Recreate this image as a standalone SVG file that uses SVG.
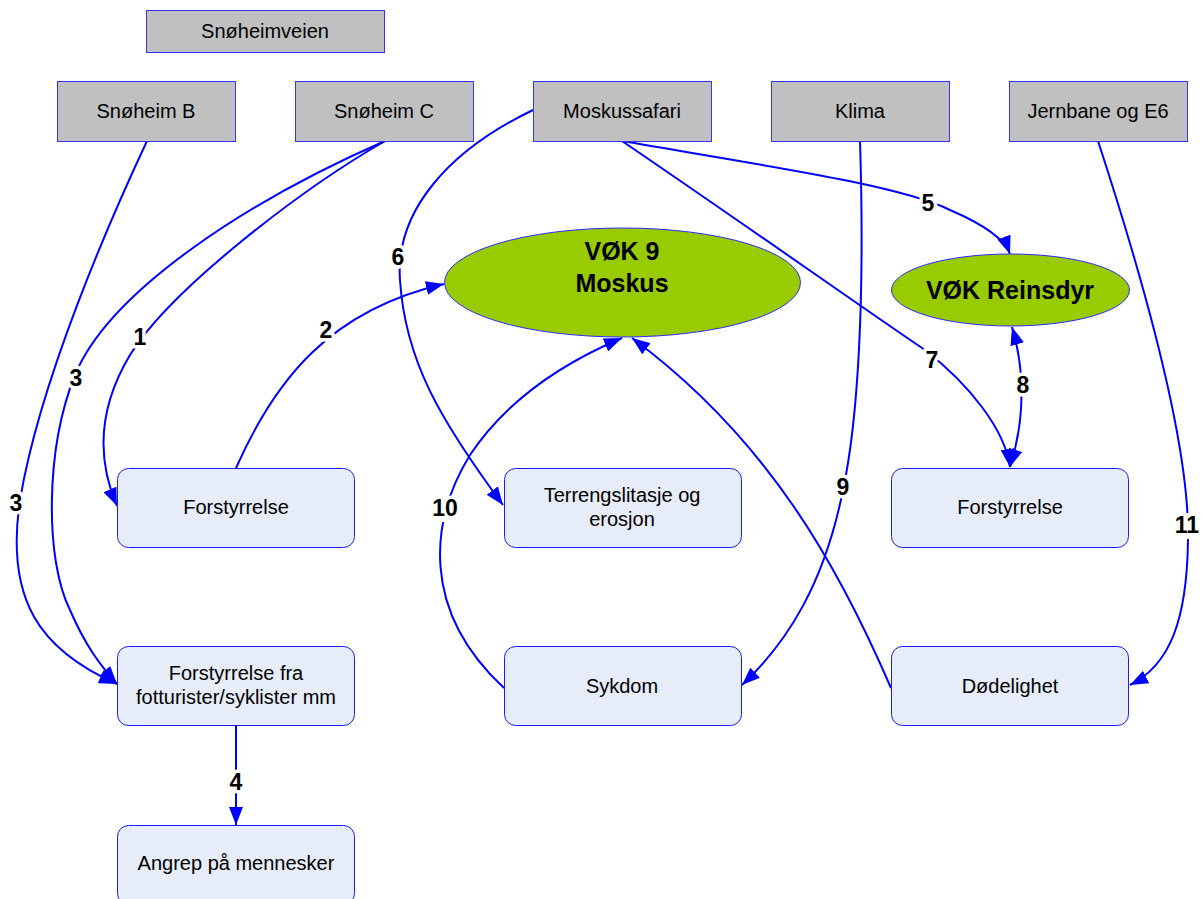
<svg xmlns="http://www.w3.org/2000/svg" width="1201" height="899" viewBox="0 0 1201 899">
  <style>
    .src rect { fill: #c0c0c0; stroke: #3333ff; stroke-width: 1; }
    .box rect { fill: #e6ecf8; stroke: #1a1aff; stroke-width: 1; }
    .vok ellipse { fill: #99cc00; stroke: #2a2aff; stroke-width: 1; }
    text { font-family: "Liberation Sans", Arial, sans-serif; fill: #000; text-anchor: middle; }
    .t { font-size: 20px; }
    .vt { font-size: 25px; font-weight: bold; }
    .lbl { font-size: 23px; font-weight: bold; stroke: #fff; stroke-width: 7; paint-order: stroke; stroke-linejoin: round; }
    .lbl-bg { fill: #fff; }
    .edges path { fill: none; stroke: #0000ff; stroke-width: 2; }
  </style>
  <defs>
    <marker id="arrow" markerUnits="userSpaceOnUse" markerWidth="18" markerHeight="14" refX="18" refY="7" orient="auto-start-reverse" viewBox="0 0 18 14">
      <path d="M0,0 L18,7 L0,14 Z" fill="#0000ff"/>
    </marker>
  </defs>

  <rect width="1201" height="899" fill="#ffffff"/>

  <!-- connectors -->
  <g id="connectors" class="edges">
    <path d="M385,141 C300,190 170,290 130,355 C100,405 95,455 117,506" marker-end="url(#arrow)"/>
    <path d="M236,468 C275,380 330,310 444,284" marker-end="url(#arrow)"/>
    <path d="M385,141 C250,200 110,290 75,375 C45,450 45,560 70,610 C85,645 100,665 117,684" marker-end="url(#arrow)"/>
    <path d="M147,141 C110,220 40,380 20,500 C5,600 40,650 117,684" marker-end="url(#arrow)"/>
    <path d="M236,725 L236,825" marker-end="url(#arrow)"/>
    <path d="M622,141 C760,165 900,185 950,210 C985,225 1005,240 1010,254" marker-end="url(#arrow)"/>
    <path d="M533,110 C450,150 395,210 400,280 C405,360 440,420 503,505" marker-end="url(#arrow)"/>
    <path d="M622,141 C760,235 880,320 925,350 C970,385 1005,430 1010,467" marker-end="url(#arrow)"/>
    <path d="M1012,327 C1025,370 1025,420 1010,467" marker-start="url(#arrow)" marker-end="url(#arrow)"/>
    <path d="M860,141 C865,300 858,420 843,490 C825,580 790,640 742,685" marker-end="url(#arrow)"/>
    <path d="M504,688 C420,610 430,520 470,455 C510,395 570,360 622,338" marker-end="url(#arrow)"/>
    <path d="M891,688 C840,570 770,440 632,338" marker-end="url(#arrow)"/>
    <path d="M1098,141 C1150,300 1190,450 1188,540 C1187,620 1170,665 1130,685" marker-end="url(#arrow)"/>
  </g>

  <!-- connector labels -->
  <g id="edge-labels">
    <rect class="lbl-bg" x="430" y="496" width="30" height="26"/>
    <rect class="lbl-bg" x="1172" y="513" width="29" height="26"/>
    <text class="lbl" x="140" y="345">1</text>
    <text class="lbl" x="326" y="338">2</text>
    <text class="lbl" x="76" y="386">3</text>
    <text class="lbl" x="16" y="511">3</text>
    <text class="lbl" x="236" y="790">4</text>
    <text class="lbl" x="928" y="211">5</text>
    <text class="lbl" x="398" y="265">6</text>
    <text class="lbl" x="932" y="368">7</text>
    <text class="lbl" x="1023" y="393">8</text>
    <text class="lbl" x="843" y="495">9</text>
    <text class="lbl" x="445" y="516">10</text>
    <text class="lbl" x="1187" y="533">11</text>
  </g>

  <!-- source boxes -->
  <g id="snoheimveien" class="src"><rect x="146.5" y="10.5" width="238" height="42"/><text class="t" x="265" y="38">Snøheimveien</text></g>
  <g id="snoheim-b" class="src"><rect x="57.5" y="81.5" width="178" height="60"/><text class="t" x="146" y="118">Snøheim B</text></g>
  <g id="snoheim-c" class="src"><rect x="295.5" y="81.5" width="178" height="60"/><text class="t" x="384" y="118">Snøheim C</text></g>
  <g id="moskussafari" class="src"><rect x="533.5" y="81.5" width="178" height="60"/><text class="t" x="622" y="118">Moskussafari</text></g>
  <g id="klima" class="src"><rect x="771.5" y="81.5" width="178" height="60"/><text class="t" x="860" y="118">Klima</text></g>
  <g id="jernbane" class="src"><rect x="1009.5" y="81.5" width="178" height="60"/><text class="t" x="1098" y="118">Jernbane og E6</text></g>

  <!-- valued ecosystem components -->
  <g id="vok-moskus" class="vok"><ellipse cx="622.5" cy="282.5" rx="178" ry="54.5"/><text class="vt" x="622" y="260">VØK 9</text><text class="vt" x="622" y="292">Moskus</text></g>
  <g id="vok-reinsdyr" class="vok"><ellipse cx="1010.5" cy="290" rx="119" ry="36"/><text class="vt" x="1010" y="299">VØK Reinsdyr</text></g>

  <!-- effect boxes -->
  <g id="forstyrrelse-1" class="box"><rect x="117.5" y="468.5" width="237" height="79" rx="11"/><text class="t" x="236" y="514">Forstyrrelse</text></g>
  <g id="terrengslitasje" class="box"><rect x="504.5" y="468.5" width="237" height="79" rx="11"/><text class="t" x="622" y="502">Terrengslitasje og</text><text class="t" x="622" y="526">erosjon</text></g>
  <g id="forstyrrelse-2" class="box"><rect x="891.5" y="468.5" width="237" height="79" rx="11"/><text class="t" x="1010" y="514">Forstyrrelse</text></g>
  <g id="forstyrrelse-fra" class="box"><rect x="117.5" y="646.5" width="237" height="79" rx="11"/><text class="t" x="236" y="680">Forstyrrelse fra</text><text class="t" x="236" y="704">fotturister/syklister mm</text></g>
  <g id="sykdom" class="box"><rect x="504.5" y="646.5" width="237" height="79" rx="11"/><text class="t" x="622" y="693">Sykdom</text></g>
  <g id="dodelighet" class="box"><rect x="891.5" y="646.5" width="237" height="79" rx="11"/><text class="t" x="1010" y="693">Dødelighet</text></g>
  <g id="angrep" class="box"><rect x="117.5" y="825.5" width="237" height="79" rx="11"/><text class="t" x="236" y="870">Angrep på mennesker</text></g>
</svg>
